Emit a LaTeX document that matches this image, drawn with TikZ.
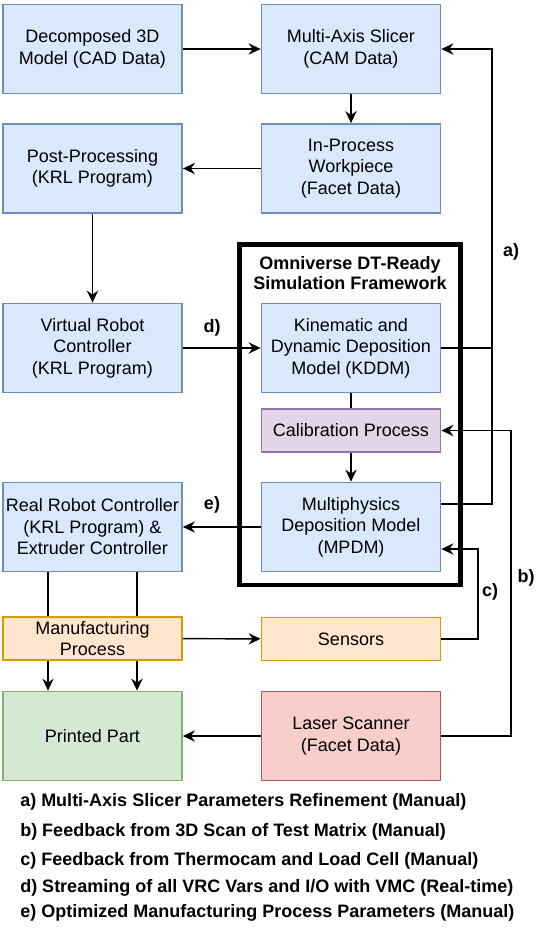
\documentclass[tikz,border=0pt]{standalone}
\usepackage{fontspec}
\setmainfont{Liberation Sans}
\usetikzlibrary{arrows.meta,calc}
\definecolor{bfill}{HTML}{DAE8FC}\definecolor{bdraw}{HTML}{6C8EBF}
\definecolor{pfill}{HTML}{E1D5E7}\definecolor{pdraw}{HTML}{9673A6}
\definecolor{ofill}{HTML}{FFE6CC}\definecolor{odraw}{HTML}{D79B00}
\definecolor{gfill}{HTML}{D5E8D4}\definecolor{gdraw}{HTML}{82B366}
\definecolor{rfill}{HTML}{F8CECC}\definecolor{rdraw}{HTML}{B85450}
\begin{document}
\begin{tikzpicture}[x=0.75pt,y=-0.75pt,
  txt/.style={font=\fontsize{13.5}{16.1}\selectfont, align=center, inner sep=0pt},
  box/.style={txt, draw, line width=1.1pt, minimum width=134.5pt, minimum height=67pt},
  sbox/.style={box, minimum height=32.5pt},
  blue/.style={fill=bfill, draw=bdraw},
  purple/.style={fill=pfill, draw=pdraw},
  orange/.style={fill=ofill, draw=odraw},
  green/.style={fill=gfill, draw=gdraw},
  red/.style={fill=rfill, draw=rdraw},
  arr/.style={-{Stealth[length=9pt,width=8.5pt,inset=3pt]}, line width=1.1pt},
  ln/.style={line width=1.1pt},
  lab/.style={font=\bfseries\fontsize{13.5}{15}\selectfont, align=center, inner sep=0pt},
  leg/.style={font=\bfseries\fontsize{13.5}{15}\selectfont, anchor=west, inner sep=0pt}]
\useasboundingbox (0,0) rectangle (559,940);
\fill[white] (0,0) rectangle (559,940);

% framework frame
\node[draw, line width=3.4pt, minimum width=166.1pt, minimum height=255.4pt, inner sep=0pt] (frame) at (350,414.5) {};
\node[lab] (title) at (350,273) {Omniverse DT-Ready\\Simulation Framework};

% boxes
\node[box,blue] (dec) at (92.5,49) {Decomposed 3D\\Model (CAD Data)};
\node[box,blue] (slicer) at (351,49) {Multi-Axis Slicer\\(CAM Data)};
\node[box,blue] (inproc) at (351,168.5) {In-Process\\Workpiece\\(Facet Data)};
\node[box,blue] (post) at (92.5,168.5) {Post-Processing\\(KRL Program)};
\node[box,blue] (vrc) at (92.5,348) {Virtual Robot\\Controller\\(KRL Program)};
\node[box,blue] (kddm) at (351,348) {Kinematic and\\Dynamic Deposition\\Model (KDDM)};
\node[sbox,purple] (calib) at (351,430.5) {Calibration Process};
\node[box,blue] (mpdm) at (351,527) {Multiphysics\\Deposition Model\\(MPDM)};
\node[box,blue] (rrc) at (92.5,527) {Real Robot Controller\\(KRL Program) \&\\Extruder Controller};
\node[sbox,orange] (mfg) at (92.5,638.5) {Manufacturing\\Process};
\node[sbox,orange] (sens) at (351,639) {Sensors};
\node[box,green] (part) at (92.5,736) {Printed Part};
\node[box,red] (laser) at (351,736) {Laser Scanner\\(Facet Data)};

% connectors
\draw[arr] (dec) -- (slicer);
\draw[arr] (slicer) -- (inproc);
\draw[arr] (inproc) -- (post);
\draw[arr] (post) -- (vrc);
\draw[arr] (vrc) -- (kddm);
\draw[ln] (kddm) -- (calib);
\draw[arr] (calib) -- (mpdm);
\draw[arr] (mpdm) -- (rrc);
\draw[ln] ($(rrc.south)+(-44.5,0)$) -- ($(mfg.north)+(-44.5,0)$);
\draw[ln] ($(rrc.south)+(44.5,0)$) -- ($(mfg.north)+(44.5,0)$);
\draw[arr] ($(mfg.south)+(-44.5,0)$) -- ($(part.north)+(-44.5,0)$);
\draw[arr] ($(mfg.south)+(44.5,0)$) -- ($(part.north)+(44.5,0)$);
\draw[arr] (mfg) -- (sens);
\draw[arr] (laser) -- (part);
\draw[arr] (sens.east) -| (478,549) -- ($(mpdm.east)+(0,22)$);
\draw[arr] (laser.east) -| (511,430.5) -- (calib.east);
\draw[arr] (kddm.east) -| (492,49) -- (slicer.east);
\draw[ln] ($(mpdm.east)+(0,-23)$) -| (492,348);

% connector labels
\node[lab] (la) at (511,252) {a)};
\node[lab] (lb) at (526,578) {b)};
\node[lab] (lc) at (490,592) {c)};
\node[lab] (ld) at (212,328) {d)};
\node[lab] (le) at (212,505) {e)};

% legend
\node[leg] (l1) at (20,802) {a) Multi-Axis Slicer Parameters Refinement (Manual)};
\node[leg] (l2) at (20,831.5) {b) Feedback from 3D Scan of Test Matrix (Manual)};
\node[leg] (l3) at (20,861) {c) Feedback from Thermocam and Load Cell (Manual)};
\node[leg] (l4) at (20,887.5) {d) Streaming of all VRC Vars and I/O with VMC (Real-time)};
\node[leg] (l5) at (20,912.5) {e) Optimized Manufacturing Process Parameters (Manual)};
\end{tikzpicture}
\end{document}
